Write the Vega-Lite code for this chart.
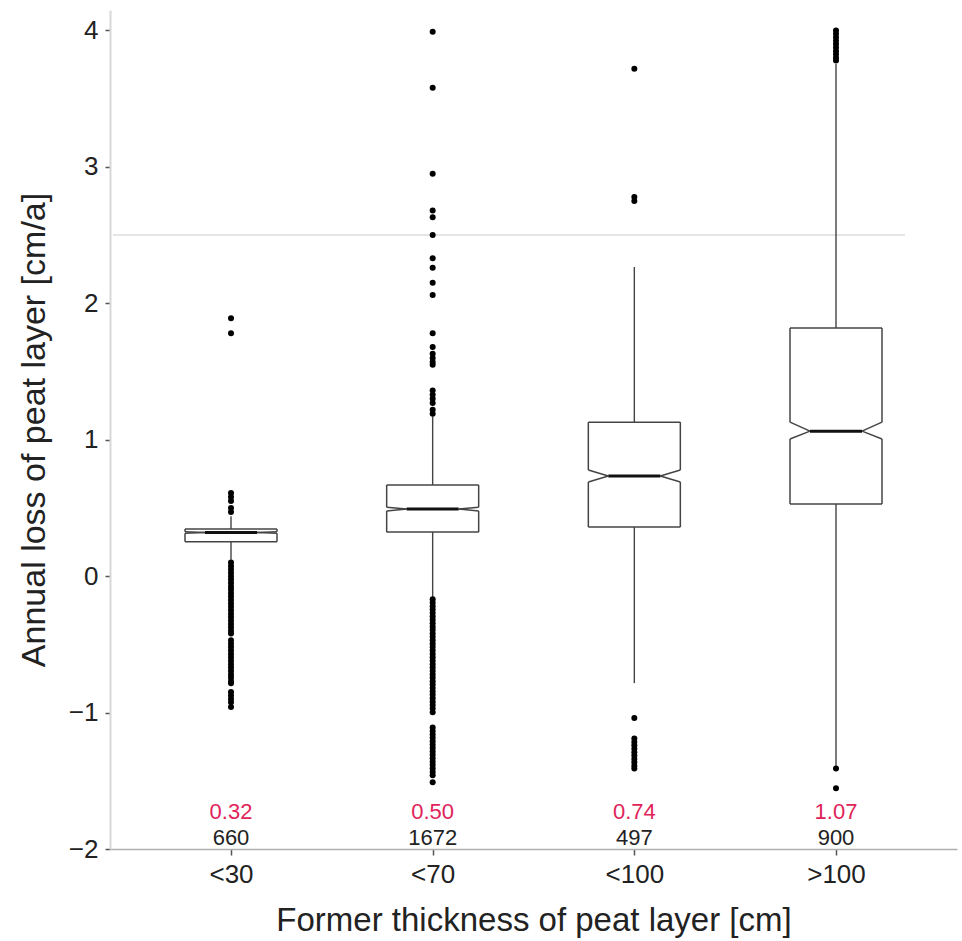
{
  "$schema": "https://vega.github.io/schema/vega-lite/v6.json",
  "width": 847,
  "height": 839,
  "autosize": "none",
  "padding": {"left": 110, "top": 10, "right": 5, "bottom": 92},
  "config": {"view": {"stroke": null}, "font": "Liberation Sans"},
  "datasets": {
    "stats": [
      {"group": "<30", "lower": 0.12, "q1": 0.252, "notch_lo": 0.314, "median": 0.32, "notch_hi": 0.326, "q3": 0.345, "upper": 0.44, "n": "660", "median_label": "0.32"},
      {"group": "<70", "lower": -0.155, "q1": 0.323, "notch_lo": 0.478, "median": 0.492, "notch_hi": 0.505, "q3": 0.668, "upper": 1.17, "n": "1672", "median_label": "0.50"},
      {"group": "<100", "lower": -0.784, "q1": 0.36, "notch_lo": 0.69, "median": 0.734, "notch_hi": 0.778, "q3": 1.129, "upper": 2.266, "n": "497", "median_label": "0.74"},
      {"group": ">100", "lower": -1.40, "q1": 0.528, "notch_lo": 1.005, "median": 1.063, "notch_hi": 1.129, "q3": 1.819, "upper": 3.754, "n": "900", "median_label": "1.07"}
    ],
    "outliers": [
      {"group": "<30", "value": 1.89}, {"group": "<30", "value": 1.78},
      {"group": "<30", "value": 0.61}, {"group": "<30", "value": 0.58}, {"group": "<30", "value": 0.55}, {"group": "<30", "value": 0.5}, {"group": "<30", "value": 0.47},
      {"group": "<30", "value": 0.1}, {"group": "<30", "value": 0.075}, {"group": "<30", "value": 0.05}, {"group": "<30", "value": 0.025}, {"group": "<30", "value": 0.0},
      {"group": "<30", "value": -0.025}, {"group": "<30", "value": -0.05}, {"group": "<30", "value": -0.075}, {"group": "<30", "value": -0.1}, {"group": "<30", "value": -0.125},
      {"group": "<30", "value": -0.15}, {"group": "<30", "value": -0.175}, {"group": "<30", "value": -0.2}, {"group": "<30", "value": -0.225}, {"group": "<30", "value": -0.25},
      {"group": "<30", "value": -0.275}, {"group": "<30", "value": -0.3}, {"group": "<30", "value": -0.325}, {"group": "<30", "value": -0.35}, {"group": "<30", "value": -0.375},
      {"group": "<30", "value": -0.4}, {"group": "<30", "value": -0.42},
      {"group": "<30", "value": -0.47}, {"group": "<30", "value": -0.495}, {"group": "<30", "value": -0.52}, {"group": "<30", "value": -0.545}, {"group": "<30", "value": -0.57},
      {"group": "<30", "value": -0.595}, {"group": "<30", "value": -0.62}, {"group": "<30", "value": -0.645}, {"group": "<30", "value": -0.67}, {"group": "<30", "value": -0.695},
      {"group": "<30", "value": -0.72}, {"group": "<30", "value": -0.745}, {"group": "<30", "value": -0.77}, {"group": "<30", "value": -0.785},
      {"group": "<30", "value": -0.85}, {"group": "<30", "value": -0.875}, {"group": "<30", "value": -0.9}, {"group": "<30", "value": -0.925}, {"group": "<30", "value": -0.96},
      {"group": "<70", "value": 3.99}, {"group": "<70", "value": 3.58}, {"group": "<70", "value": 2.95}, {"group": "<70", "value": 2.68}, {"group": "<70", "value": 2.63},
      {"group": "<70", "value": 2.5}, {"group": "<70", "value": 2.33}, {"group": "<70", "value": 2.26}, {"group": "<70", "value": 2.15}, {"group": "<70", "value": 2.06},
      {"group": "<70", "value": 1.78}, {"group": "<70", "value": 1.68}, {"group": "<70", "value": 1.63}, {"group": "<70", "value": 1.6}, {"group": "<70", "value": 1.57},
      {"group": "<70", "value": 1.55}, {"group": "<70", "value": 1.36}, {"group": "<70", "value": 1.33}, {"group": "<70", "value": 1.3}, {"group": "<70", "value": 1.27},
      {"group": "<70", "value": 1.22}, {"group": "<70", "value": 1.19},
      {"group": "<70", "value": -0.17}, {"group": "<70", "value": -0.195}, {"group": "<70", "value": -0.22}, {"group": "<70", "value": -0.245}, {"group": "<70", "value": -0.27},
      {"group": "<70", "value": -0.295}, {"group": "<70", "value": -0.32}, {"group": "<70", "value": -0.345}, {"group": "<70", "value": -0.37}, {"group": "<70", "value": -0.395},
      {"group": "<70", "value": -0.42}, {"group": "<70", "value": -0.445}, {"group": "<70", "value": -0.47}, {"group": "<70", "value": -0.495}, {"group": "<70", "value": -0.52},
      {"group": "<70", "value": -0.545}, {"group": "<70", "value": -0.57}, {"group": "<70", "value": -0.595}, {"group": "<70", "value": -0.62}, {"group": "<70", "value": -0.645},
      {"group": "<70", "value": -0.67}, {"group": "<70", "value": -0.695}, {"group": "<70", "value": -0.72}, {"group": "<70", "value": -0.745}, {"group": "<70", "value": -0.77},
      {"group": "<70", "value": -0.795}, {"group": "<70", "value": -0.82}, {"group": "<70", "value": -0.845}, {"group": "<70", "value": -0.87}, {"group": "<70", "value": -0.895},
      {"group": "<70", "value": -0.92}, {"group": "<70", "value": -0.945}, {"group": "<70", "value": -0.97}, {"group": "<70", "value": -0.997},
      {"group": "<70", "value": -1.11}, {"group": "<70", "value": -1.135}, {"group": "<70", "value": -1.16}, {"group": "<70", "value": -1.185}, {"group": "<70", "value": -1.21},
      {"group": "<70", "value": -1.235}, {"group": "<70", "value": -1.26}, {"group": "<70", "value": -1.285}, {"group": "<70", "value": -1.31}, {"group": "<70", "value": -1.335},
      {"group": "<70", "value": -1.36}, {"group": "<70", "value": -1.385}, {"group": "<70", "value": -1.41}, {"group": "<70", "value": -1.435}, {"group": "<70", "value": -1.46},
      {"group": "<70", "value": -1.51},
      {"group": "<100", "value": 3.72}, {"group": "<100", "value": 2.78}, {"group": "<100", "value": 2.75}, {"group": "<100", "value": -1.04},
      {"group": "<100", "value": -1.19}, {"group": "<100", "value": -1.215}, {"group": "<100", "value": -1.24}, {"group": "<100", "value": -1.265}, {"group": "<100", "value": -1.29},
      {"group": "<100", "value": -1.315}, {"group": "<100", "value": -1.34}, {"group": "<100", "value": -1.365}, {"group": "<100", "value": -1.39}, {"group": "<100", "value": -1.41},
      {"group": ">100", "value": 4.0}, {"group": ">100", "value": 3.975}, {"group": ">100", "value": 3.95}, {"group": ">100", "value": 3.925}, {"group": ">100", "value": 3.9},
      {"group": ">100", "value": 3.875}, {"group": ">100", "value": 3.85}, {"group": ">100", "value": 3.825}, {"group": ">100", "value": 3.8}, {"group": ">100", "value": 3.78},
      {"group": ">100", "value": -1.41}, {"group": ">100", "value": -1.555}
    ]
  },
  "encoding": {
    "x": {
      "field": "group",
      "type": "nominal",
      "sort": ["<30", "<70", "<100", ">100"],
      "scale": {"type": "point", "padding": 0.6, "domain": ["<30", "<70", "<100", ">100"]},
      "axis": {
        "title": "Former thickness of peat layer [cm]",
        "labelAngle": 0,
        "labelFontSize": 26,
        "labelColor": "#222",
        "labelPadding": 6,
        "tickSize": 6,
        "tickColor": "#555",
        "tickWidth": 1.5,
        "domainColor": "#b0b0b0",
        "domainWidth": 1.5,
        "titleFontSize": 33,
        "titleFontWeight": "normal",
        "titleColor": "#222",
        "titlePadding": 17,
        "grid": false
      }
    },
    "y": {
      "type": "quantitative",
      "scale": {"domain": [-2, 4.15], "nice": false, "zero": false},
      "axis": {
        "title": "Annual loss of peat layer [cm/a]",
        "values": [-2, -1, 0, 1, 2, 3, 4],
        "labelFontSize": 26,
        "labelColor": "#222",
        "labelPadding": 7,
        "tickSize": 5,
        "tickColor": "#555",
        "tickWidth": 1.5,
        "domainColor": "#d8d8d8",
        "domainWidth": 2,
        "titleFontSize": 34,
        "titleFontWeight": "normal",
        "titleColor": "#222",
        "titlePadding": 17,
        "grid": false
      }
    }
  },
  "layer": [
    {
      "data": {"name": "stats"},
      "mark": {"type": "rule", "color": "#e4e4e4", "strokeWidth": 1.5, "xOffset": -118, "x2Offset": 69},
      "encoding": {"x": {"datum": "<30", "type": "nominal"}, "x2": {"datum": ">100"}, "y": {"datum": 2.5, "type": "quantitative"}}
    },
    {
      "data": {"name": "stats"},
      "mark": {"type": "rule", "color": "#444", "strokeWidth": 1.4},
      "encoding": {"y": {"field": "lower", "type": "quantitative"}, "y2": {"field": "q1"}}
    },
    {
      "data": {"name": "stats"},
      "mark": {"type": "rule", "color": "#444", "strokeWidth": 1.4},
      "encoding": {"y": {"field": "q3", "type": "quantitative"}, "y2": {"field": "upper"}}
    },
    {
      "data": {"name": "stats"},
      "mark": {"type": "rule", "color": "#444", "strokeWidth": 1.5, "xOffset": -46, "x2Offset": 46},
      "encoding": {"x2": {"field": "group"}, "y": {"field": "q3", "type": "quantitative"}}
    },
    {
      "data": {"name": "stats"},
      "mark": {"type": "rule", "color": "#444", "strokeWidth": 1.5, "xOffset": -46, "x2Offset": 46},
      "encoding": {"x2": {"field": "group"}, "y": {"field": "q1", "type": "quantitative"}}
    },
    {
      "data": {"name": "stats"},
      "mark": {"type": "rule", "color": "#444", "strokeWidth": 1.5, "xOffset": -46},
      "encoding": {"y": {"field": "q1", "type": "quantitative"}, "y2": {"field": "notch_lo"}}
    },
    {
      "data": {"name": "stats"},
      "mark": {"type": "rule", "color": "#444", "strokeWidth": 1.5, "xOffset": -46},
      "encoding": {"y": {"field": "notch_hi", "type": "quantitative"}, "y2": {"field": "q3"}}
    },
    {
      "data": {"name": "stats"},
      "mark": {"type": "rule", "color": "#444", "strokeWidth": 1.5, "xOffset": 46},
      "encoding": {"y": {"field": "q1", "type": "quantitative"}, "y2": {"field": "notch_lo"}}
    },
    {
      "data": {"name": "stats"},
      "mark": {"type": "rule", "color": "#444", "strokeWidth": 1.5, "xOffset": 46},
      "encoding": {"y": {"field": "notch_hi", "type": "quantitative"}, "y2": {"field": "q3"}}
    },
    {
      "data": {"name": "stats"},
      "mark": {"type": "rule", "color": "#444", "strokeWidth": 1.5, "xOffset": -46, "x2Offset": -26},
      "encoding": {"x2": {"field": "group"}, "y": {"field": "notch_lo", "type": "quantitative"}, "y2": {"field": "median"}}
    },
    {
      "data": {"name": "stats"},
      "mark": {"type": "rule", "color": "#444", "strokeWidth": 1.5, "xOffset": -46, "x2Offset": -26},
      "encoding": {"x2": {"field": "group"}, "y": {"field": "notch_hi", "type": "quantitative"}, "y2": {"field": "median"}}
    },
    {
      "data": {"name": "stats"},
      "mark": {"type": "rule", "color": "#444", "strokeWidth": 1.5, "xOffset": 46, "x2Offset": 26},
      "encoding": {"x2": {"field": "group"}, "y": {"field": "notch_lo", "type": "quantitative"}, "y2": {"field": "median"}}
    },
    {
      "data": {"name": "stats"},
      "mark": {"type": "rule", "color": "#444", "strokeWidth": 1.5, "xOffset": 46, "x2Offset": 26},
      "encoding": {"x2": {"field": "group"}, "y": {"field": "notch_hi", "type": "quantitative"}, "y2": {"field": "median"}}
    },
    {
      "data": {"name": "stats"},
      "mark": {"type": "rule", "color": "#111", "strokeWidth": 3, "xOffset": -26, "x2Offset": 26},
      "encoding": {"x2": {"field": "group"}, "y": {"field": "median", "type": "quantitative"}}
    },
    {
      "data": {"name": "outliers"},
      "mark": {"type": "circle", "color": "#000", "opacity": 1, "size": 36},
      "encoding": {"y": {"field": "value", "type": "quantitative"}}
    },
    {
      "data": {"name": "stats"},
      "mark": {"type": "text", "color": "#e0245a", "fontSize": 22, "baseline": "middle"},
      "encoding": {"y": {"datum": -1.73, "type": "quantitative"}, "text": {"field": "median_label"}}
    },
    {
      "data": {"name": "stats"},
      "mark": {"type": "text", "color": "#222", "fontSize": 22, "baseline": "middle"},
      "encoding": {"y": {"datum": -1.92, "type": "quantitative"}, "text": {"field": "n"}}
    }
  ]
}
